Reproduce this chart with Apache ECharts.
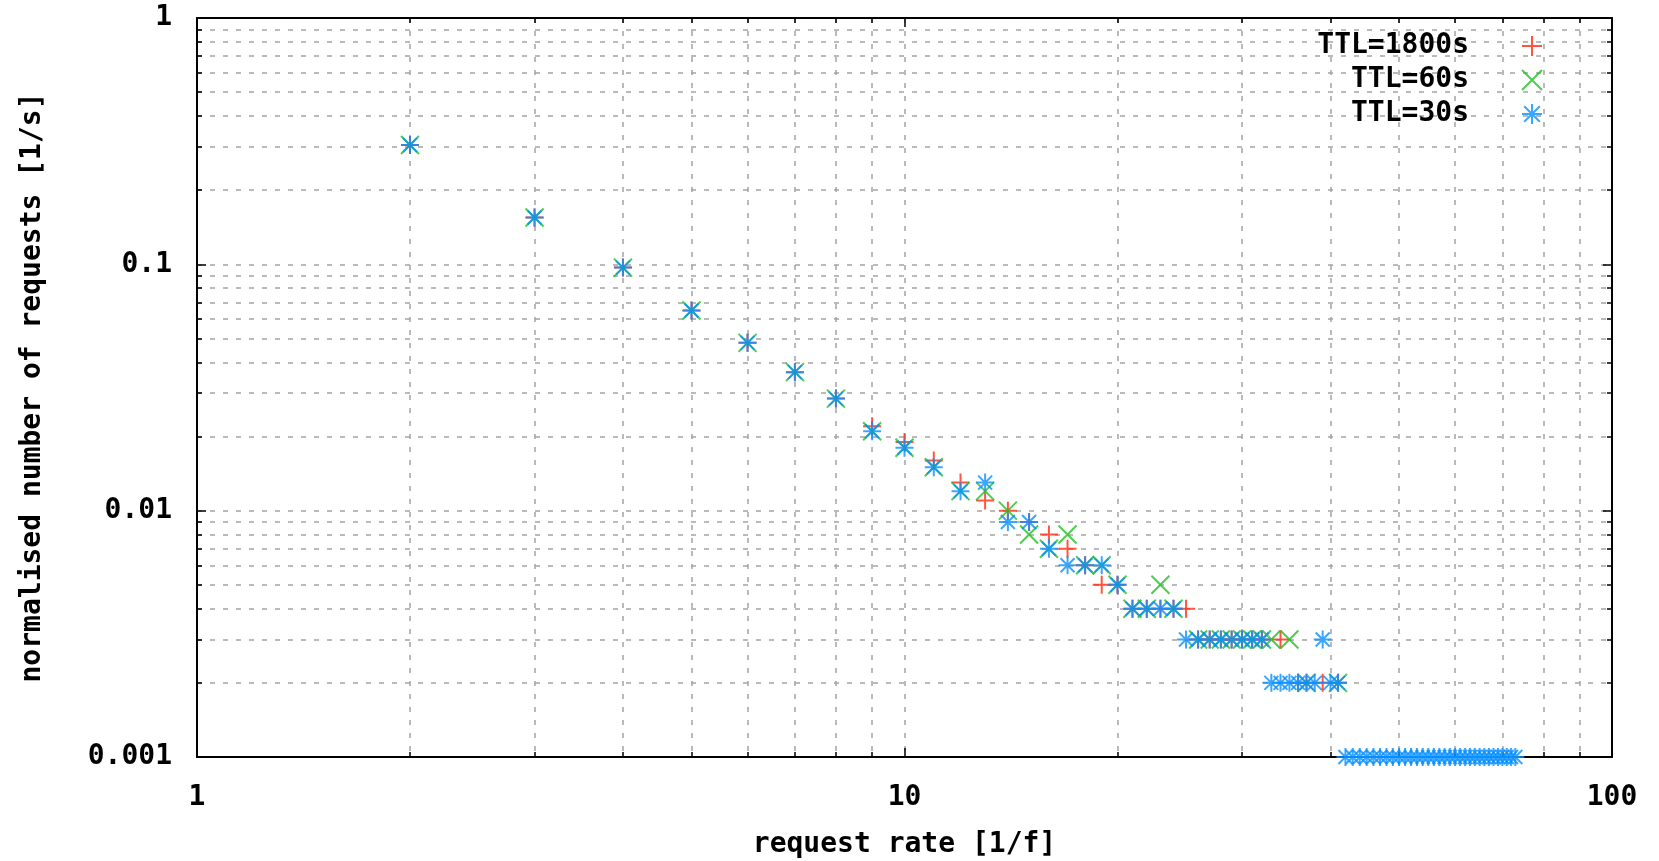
<!DOCTYPE html>
<html>
<head>
<meta charset="utf-8">
<title>normalised number of requests</title>
<script src="https://cdn.jsdelivr.net/npm/echarts@6.0.0/dist/echarts.min.js"></script>
<style>
    html, body { margin: 0; padding: 0; background: #fff; }
    #chart { width: 1659px; height: 861px; }
</style>
</head>
<body>
<div id="chart"></div>
<script>
    // values: [request rate, normalised number of requests]
    const seriesNames = ['TTL=1800s', 'TTL=60s', 'TTL=30s']
    const ttl1800 = [
        [2, 0.305], [3, 0.155], [4, 0.097], [5, 0.065], [6, 0.048], [7, 0.0365], [8, 0.0285],
        [9, 0.022], [10, 0.019], [11, 0.016], [12, 0.013], [13, 0.011], [14, 0.010], [15, 0.009],
        [16, 0.008], [17, 0.007], [18, 0.006], [19, 0.005], [20, 0.005], [21, 0.004], [22, 0.004],
        [23, 0.004], [24, 0.004], [25, 0.004], [26, 0.003], [27, 0.003], [28, 0.003], [29, 0.003],
        [30, 0.003], [31, 0.003], [32, 0.003], [34, 0.003], [36, 0.002], [37, 0.002], [39, 0.002],
        [41, 0.002]
    ]
    const ttl60 = [
        [2, 0.305], [3, 0.155], [4, 0.097], [5, 0.065], [6, 0.048], [7, 0.0365], [8, 0.0285],
        [9, 0.021], [10, 0.018], [11, 0.015], [12, 0.012], [13, 0.012], [14, 0.010], [15, 0.008],
        [16, 0.007], [17, 0.008], [18, 0.006], [19, 0.006], [20, 0.005], [21, 0.004], [22, 0.004],
        [23, 0.005], [24, 0.004], [26, 0.003], [27, 0.003], [28, 0.003], [29, 0.003], [30, 0.003],
        [31, 0.003], [32, 0.003], [33, 0.003], [35, 0.003], [37, 0.002], [41, 0.002]
    ]
    const ttl30 = [
        [2, 0.305], [3, 0.155], [4, 0.097], [5, 0.065], [6, 0.048], [7, 0.0365], [8, 0.0285],
        [9, 0.021], [10, 0.018], [11, 0.015], [12, 0.012], [13, 0.013], [14, 0.009], [15, 0.009],
        [16, 0.007], [17, 0.006], [18, 0.006], [19, 0.006], [20, 0.005], [21, 0.004], [22, 0.004],
        [23, 0.004], [24, 0.004], [25, 0.003], [26, 0.003], [27, 0.003], [28, 0.003], [29, 0.003],
        [30, 0.003], [31, 0.003], [32, 0.003], [33, 0.002], [34, 0.002], [35, 0.002], [36, 0.002],
        [37, 0.002], [38, 0.002], [39, 0.003], [40, 0.002], [41, 0.002], [42, 0.001], [43, 0.001],
        [44, 0.001], [45, 0.001], [46, 0.001], [47, 0.001], [48, 0.001], [49, 0.001], [50, 0.001],
        [51, 0.001], [52, 0.001], [53, 0.001], [54, 0.001], [55, 0.001], [56, 0.001], [57, 0.001],
        [58, 0.001], [59, 0.001], [60, 0.001], [61, 0.001], [62, 0.001], [63, 0.001], [64, 0.001],
        [65, 0.001], [66, 0.001], [67, 0.001], [68, 0.001], [69, 0.001], [70, 0.001], [71, 0.001],
        [72, 0.001], [73, 0.001]
    ]

    const font = "'DejaVu Sans Mono', monospace"
    const gridLine = {color: '#a4a4a4', width: 1.5, type: [5, 8]}
    const plus = 'path://M0,9 L18,9 M9,0 L9,18'
    const cross = 'path://M0,0 L18,18 M18,0 L0,18'
    const star = 'path://M0,9 L18,9 M9,0 L9,18 M2,2 L16,16 M16,2 L2,16'

    function logAxis(min, max, extra) {
        return Object.assign({
            type: 'log',
            logBase: 10,
            min: min,
            max: max,
            axisLine: {show: true, onZero: false, lineStyle: {color: '#000', width: 2}},
            axisTick: {show: true, inside: true, length: 9, lineStyle: {color: '#000', width: 1.5}},
            minorTick: {show: true, splitNumber: 9, length: 5, lineStyle: {color: '#000', width: 1.5}},
            axisLabel: {show: false},
            splitLine: {show: false},
            minorSplitLine: {show: false}
        }, extra)
    }

    const textStyle = {color: '#000', fontFamily: font, fontWeight: 'bold', fontSize: 28}

    let option = {
        backgroundColor: '#fff',
        animation: false,
        grid: {left: 197, right: 47, top: 18, bottom: 104, containLabel: false, outerBoundsMode: 'none'},
        legend: {
            orient: 'vertical',
            align: 'right',
            right: 116,
            top: 32,
            padding: 0,
            itemWidth: 116,
            itemHeight: 20,
            itemGap: 6,
            data: seriesNames,
            textStyle: textStyle
        },
        xAxis: [
            logAxis(1, 100, {
                position: 'bottom',
                axisLabel: Object.assign({show: true, margin: 27}, textStyle),
                splitLine: {show: true, lineStyle: gridLine},
                minorSplitLine: {show: true, lineStyle: gridLine},
                name: 'request rate [1/f]',
                nameLocation: 'middle',
                nameGap: 74,
                nameTextStyle: textStyle
            }),
            logAxis(1, 100, {position: 'top'})
        ],
        yAxis: [
            logAxis(0.001, 1, {
                position: 'left',
                axisLabel: Object.assign({show: true, margin: 25}, textStyle),
                splitLine: {show: true, lineStyle: gridLine},
                minorSplitLine: {show: true, lineStyle: gridLine},
                name: 'normalised number of requests [1/s]',
                nameLocation: 'middle',
                nameGap: 150,
                nameTextStyle: textStyle
            }),
            logAxis(0.001, 1, {position: 'right'})
        ],
        series: [
            {
                name: seriesNames[0],
                type: 'scatter',
                clip: false,
                symbol: plus,
                symbolSize: 18,
                itemStyle: {color: '#ff2a10', borderColor: '#ff2a10', borderWidth: 2},
                data: ttl1800
            },
            {
                name: seriesNames[1],
                type: 'scatter',
                clip: false,
                symbol: cross,
                symbolSize: 18,
                itemStyle: {color: '#22c022', borderColor: '#22c022', borderWidth: 2},
                data: ttl60
            },
            {
                name: seriesNames[2],
                type: 'scatter',
                clip: false,
                symbol: star,
                symbolSize: 18,
                itemStyle: {color: '#0a90ff', borderColor: '#0a90ff', borderWidth: 2},
                data: ttl30
            }
        ]
    }

    const chart = echarts.init(document.getElementById('chart'))
    chart.setOption(option, true)
    window.addEventListener('resize', () => {
        if (chart) {
            chart.resize()
        }
    })
</script>
</body>
</html>
